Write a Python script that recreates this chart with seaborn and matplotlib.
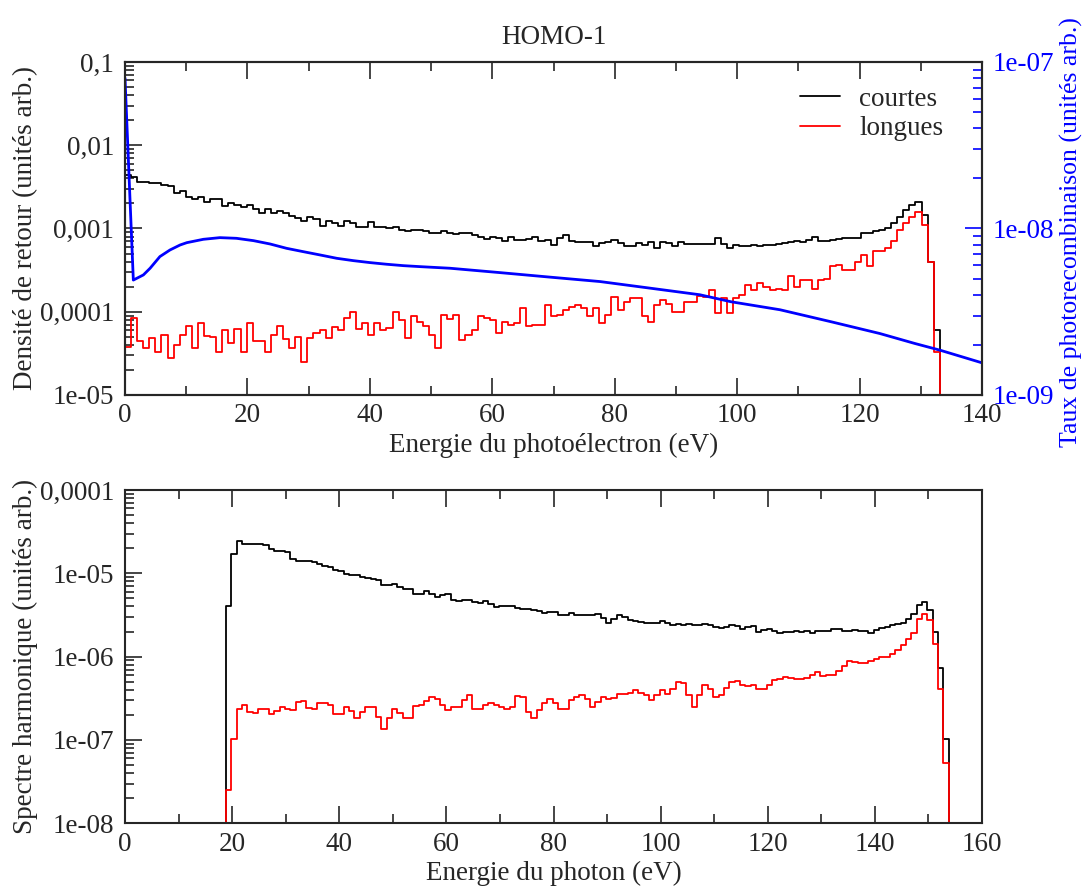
import numpy as np
import pandas as pd
import matplotlib
matplotlib.use("Agg")
import matplotlib.pyplot as plt
import seaborn as sns
from matplotlib.ticker import LogLocator, MultipleLocator, NullFormatter

# ---- haut : densite de retour (bins ~1 eV de 0 a 133.1 eV)
retour_debut, retour_fin = 0.0, 133.1
courtes_retour = [
    4.4e-3, 4.2e-3, 3.6e-3, 3.6e-3, 3.55e-3, 3.5e-3, 3.35e-3, 3.2e-3, 2.65e-3, 2.8e-3,
    2.4e-3, 2.25e-3, 2.4e-3, 2.1e-3, 2.25e-3, 2.25e-3, 1.87e-3, 2.0e-3, 1.9e-3, 1.83e-3,
    1.9e-3, 1.7e-3, 1.55e-3, 1.7e-3, 1.52e-3, 1.6e-3, 1.52e-3, 1.42e-3, 1.35e-3, 1.22e-3,
    1.37e-3, 1.3e-3, 1.07e-3, 1.22e-3, 1.16e-3, 1.07e-3, 1.22e-3, 1.16e-3, 1.05e-3, 1.05e-3,
    1.18e-3, 1.05e-3, 1.05e-3, 1.0e-3, 1.05e-3, 9.6e-4, 9.2e-4, 9.6e-4, 9.6e-4, 9.2e-4,
    8.8e-4, 8.9e-4, 9.2e-4, 8.8e-4, 8.6e-4, 8.8e-4, 8.9e-4, 8.4e-4, 8.0e-4, 7.5e-4,
    8.0e-4, 7.7e-4, 7.0e-4, 8.0e-4, 7.3e-4, 7.3e-4, 7.5e-4, 8.0e-4, 7.0e-4, 7.2e-4,
    6.35e-4, 7.7e-4, 8.4e-4, 7.0e-4, 6.8e-4, 6.8e-4, 6.8e-4, 6.1e-4, 6.65e-4, 6.8e-4,
    7.3e-4, 6.65e-4, 6.1e-4, 6.2e-4, 6.65e-4, 6.35e-4, 6.8e-4, 5.8e-4, 6.9e-4, 6.65e-4,
    6.1e-4, 6.8e-4, 6.55e-4, 6.55e-4, 6.55e-4, 6.6e-4, 6.6e-4, 7.6e-4, 6.6e-4, 5.8e-4,
    6.3e-4, 6.2e-4, 6.1e-4, 6.3e-4, 6.2e-4, 6.4e-4, 6.3e-4, 6.6e-4, 6.7e-4, 6.9e-4,
    7.0e-4, 6.9e-4, 7.2e-4, 8.0e-4, 7.0e-4, 7.1e-4, 7.3e-4, 7.4e-4, 7.6e-4, 7.7e-4,
    7.6e-4, 8.75e-4, 8.75e-4, 9.2e-4, 9.6e-4, 1.0e-3, 1.15e-3, 1.39e-3, 1.67e-3, 1.91e-3,
    2.1e-3, 1.45e-3, 4.0e-4, 6.0e-5,
]
longues_retour = [
    3.8e-5, 8.5e-5, 4.5e-5, 3.7e-5, 4.8e-5, 3.3e-5, 5.2e-5, 2.8e-5, 4.0e-5, 5.2e-5,
    6.7e-5, 3.7e-5, 7.3e-5, 5.1e-5, 5.0e-5, 3.3e-5, 6.1e-5, 4.2e-5, 6.2e-5, 3.3e-5,
    7.3e-5, 4.5e-5, 4.5e-5, 3.3e-5, 5.2e-5, 6.7e-5, 4.7e-5, 3.7e-5, 5.0e-5, 2.5e-5,
    4.9e-5, 5.5e-5, 6.1e-5, 4.8e-5, 6.5e-5, 6.1e-5, 8.4e-5, 1.0e-4, 6.2e-5, 7.3e-5,
    5.2e-5, 7.3e-5, 6.1e-5, 6.4e-5, 1.0e-4, 8.0e-5, 4.8e-5, 8.8e-5, 7.6e-5, 6.7e-5,
    5.2e-5, 3.7e-5, 9.2e-5, 8.1e-5, 9.2e-5, 4.6e-5, 5.2e-5, 6.1e-5, 8.8e-5, 8.4e-5,
    8.0e-5, 5.6e-5, 7.6e-5, 7.0e-5, 7.3e-5, 1.1e-4, 6.7e-5, 7.0e-5, 7.0e-5, 1.2e-4,
    8.8e-5, 9.2e-5, 1.05e-4, 1.15e-4, 1.2e-4, 1.1e-4, 8.8e-5, 1.1e-4, 7.3e-5, 9.2e-5,
    1.5e-4, 1.05e-4, 1.3e-4, 1.45e-4, 1.45e-4, 8.8e-5, 7.6e-5, 1.2e-4, 1.4e-4, 1.25e-4,
    1.0e-4, 1.0e-4, 1.3e-4, 1.3e-4, 1.55e-4, 1.5e-4, 1.8e-4, 9.6e-5, 1.45e-4, 9.6e-5,
    1.46e-4, 1.6e-4, 2.1e-4, 1.83e-4, 2.2e-4, 2.0e-4, 1.83e-4, 1.9e-4, 1.83e-4, 2.65e-4,
    2.0e-4, 2.4e-4, 2.4e-4, 1.9e-4, 2.4e-4, 2.5e-4, 3.5e-4, 3.6e-4, 3.2e-4, 3.2e-4,
    4.0e-4, 4.8e-4, 3.5e-4, 5.3e-4, 5.3e-4, 5.8e-4, 7.0e-4, 9.6e-4, 1.15e-3, 1.39e-3,
    1.59e-3, 1.1e-3, 4.0e-4, 3.3e-5,
]

# taux de photorecombinaison (axe de droite)
taux_energie = [0, 1.36, 3.0, 4.1, 5.7, 7.35, 9.0, 10.1, 12.8, 15.5, 18.2, 21.0, 23.7,
                26.4, 29.1, 31.9, 34.6, 37.3, 40.0, 42.7, 45.5, 48.2, 53.1, 61.3, 69.5,
                77.6, 85.8, 93.9, 99.0, 107.0, 115.4, 123.3, 129.0, 133.1, 140.0]
taux_valeur = [8.0e-8, 4.9e-9, 5.26e-9, 5.77e-9, 6.78e-9, 7.43e-9, 7.96e-9, 8.22e-9,
               8.61e-9, 8.81e-9, 8.73e-9, 8.45e-9, 8.07e-9, 7.6e-9, 7.26e-9, 6.93e-9,
               6.62e-9, 6.41e-9, 6.24e-9, 6.1e-9, 5.98e-9, 5.9e-9, 5.77e-9, 5.43e-9,
               5.1e-9, 4.8e-9, 4.38e-9, 4.0e-9, 3.63e-9, 3.25e-9, 2.75e-9, 2.34e-9,
               2.04e-9, 1.86e-9, 1.56e-9]

# ---- bas : spectre harmonique (bins ~1 eV de 18.85 a 153.8 eV)
spectre_debut, spectre_fin = 18.85, 153.8
courtes_spectre = [
    4.01e-6, 1.71e-5, 2.47e-5, 2.26e-5, 2.26e-5, 2.26e-5, 2.26e-5, 2.21e-5, 1.97e-5, 1.83e-5,
    1.83e-5, 1.79e-5, 1.49e-5, 1.39e-5, 1.39e-5, 1.39e-5, 1.36e-5, 1.28e-5, 1.22e-5, 1.19e-5,
    1.11e-5, 1.08e-5, 9.86e-6, 9.42e-6, 9.42e-6, 8.99e-6, 8.75e-6, 8.44e-6, 8.21e-6, 7.28e-6,
    7.28e-6, 7.48e-6, 6.83e-6, 6.52e-6, 6.40e-6, 5.68e-6,
    5.68e-6, 6.06e-6, 5.68e-6, 5.18e-6, 5.43e-6, 5.68e-6, 4.73e-6, 4.60e-6, 4.73e-6, 4.73e-6,
    4.52e-6, 4.43e-6, 4.60e-6, 4.31e-6, 3.93e-6, 4.01e-6, 4.01e-6, 4.01e-6, 3.83e-6, 3.76e-6,
    3.69e-6, 3.59e-6, 3.49e-6, 3.37e-6, 3.43e-6, 3.43e-6, 3.13e-6, 3.18e-6, 3.33e-6, 3.18e-6,
    3.18e-6, 3.13e-6, 3.18e-6, 3.21e-6, 2.90e-6, 2.55e-6, 2.85e-6, 3.13e-6, 2.99e-6, 2.77e-6,
    2.65e-6, 2.60e-6, 2.55e-6, 2.53e-6, 2.55e-6, 2.65e-6, 2.53e-6, 2.42e-6, 2.44e-6,
    2.42e-6, 2.44e-6, 2.37e-6, 2.42e-6, 2.48e-6, 2.37e-6, 2.27e-6, 2.20e-6, 2.27e-6, 2.37e-6,
    2.33e-6, 2.16e-6, 2.27e-6, 2.31e-6, 1.97e-6, 2.07e-6, 2.12e-6, 2.01e-6, 1.94e-6, 1.97e-6,
    1.97e-6, 2.01e-6, 1.97e-6, 2.01e-6, 1.94e-6, 2.01e-6, 2.05e-6, 2.05e-6, 2.16e-6, 2.12e-6,
    2.01e-6, 2.05e-6, 2.07e-6, 2.01e-6, 2.01e-6, 1.94e-6, 2.07e-6, 2.20e-6, 2.27e-6, 2.37e-6,
    2.48e-6, 2.55e-6, 2.85e-6, 3.27e-6, 4.12e-6, 4.52e-6, 3.59e-6, 1.97e-6, 7.31e-7, 1.04e-7,
]
longues_spectre = [
    2.51e-8, 1.04e-7, 2.38e-7, 2.61e-7, 2.17e-7, 2.08e-7, 2.38e-7, 2.32e-7, 2.04e-7, 2.21e-7,
    2.47e-7, 2.38e-7, 2.28e-7, 2.84e-7, 2.92e-7, 2.43e-7, 2.34e-7, 2.76e-7, 2.76e-7, 2.66e-7,
    2.06e-7, 2.06e-7, 2.50e-7, 2.21e-7, 1.84e-7, 2.17e-7, 2.52e-7, 2.47e-7, 1.89e-7, 1.37e-7,
    1.81e-7, 2.38e-7, 2.13e-7, 1.84e-7, 1.84e-7, 2.57e-7,
    2.61e-7, 2.92e-7, 3.29e-7, 3.14e-7, 2.66e-7, 2.28e-7, 2.50e-7, 2.50e-7, 3.00e-7, 3.44e-7,
    2.38e-7, 2.32e-7, 2.66e-7, 2.81e-7, 2.61e-7, 2.50e-7, 2.34e-7, 2.50e-7, 3.38e-7, 3.29e-7,
    2.17e-7, 1.84e-7, 2.28e-7, 2.74e-7, 3.14e-7, 2.74e-7, 2.38e-7, 2.32e-7, 3.00e-7, 3.29e-7,
    3.44e-7, 3.14e-7, 2.50e-7, 2.86e-7, 3.29e-7, 3.14e-7, 3.20e-7, 3.60e-7, 3.60e-7, 3.70e-7,
    3.95e-7, 3.70e-7, 3.51e-7, 3.00e-7, 3.51e-7, 3.95e-7, 3.60e-7, 4.14e-7, 4.97e-7,
    4.88e-7, 3.44e-7, 2.50e-7, 3.51e-7, 4.62e-7, 4.06e-7, 3.29e-7, 3.51e-7, 4.21e-7, 4.97e-7,
    5.07e-7, 4.54e-7, 4.45e-7, 4.62e-7, 4.14e-7, 4.06e-7, 4.62e-7, 5.21e-7, 5.45e-7, 5.71e-7,
    5.55e-7, 5.45e-7, 5.45e-7, 5.55e-7, 5.98e-7, 6.55e-7, 5.87e-7, 5.98e-7, 6.09e-7, 6.67e-7,
    7.73e-7, 8.79e-7, 8.63e-7, 8.48e-7, 8.48e-7, 8.79e-7, 9.46e-7, 9.91e-7, 9.91e-7, 1.09e-6,
    1.19e-6, 1.37e-6, 1.61e-6, 1.94e-6, 2.85e-6, 3.27e-6, 2.72e-6, 1.43e-6, 4.14e-7, 5.23e-8,
]

# graduations
retour_ticks = [1e-5, 1e-4, 1e-3, 1e-2, 1e-1]
retour_labels = ["1e-05", "0,0001", "0,001", "0,01", "0,1"]
taux_ticks = [1e-9, 1e-8, 1e-7]
taux_labels = ["1e-09", "1e-08", "1e-07"]
spectre_ticks = [1e-8, 1e-7, 1e-6, 1e-5, 1e-4]
spectre_labels = ["1e-08", "1e-07", "1e-06", "1e-05", "0,0001"]

PLANCHER = 1e-14  # sous l'axe, pour tracer les bords verticaux de l'histogramme
TAILLE = 19.5


def escalier(debut, fin, valeurs):
    bords = np.linspace(debut, fin, len(valeurs) + 1)
    x = np.concatenate([[bords[0]], bords])
    y = np.concatenate([[PLANCHER], valeurs, [PLANCHER]])
    return pd.DataFrame({"E": x, "v": y})


sns.set_style("ticks")
plt.rcParams["font.family"] = ["Liberation Serif", "DejaVu Serif"]
plt.rcParams["font.size"] = TAILLE
plt.rcParams["axes.linewidth"] = 1.5

fig = plt.figure(figsize=(10.87, 8.88), dpi=100)
ax = fig.add_axes([0.1150, 0.5552, 0.7884, 0.3750])
axb = fig.add_axes([0.1150, 0.0729, 0.7884, 0.3753])

# ---------- panneau du haut
ax.set_yscale("log")
sns.lineplot(data=escalier(retour_debut, retour_fin, courtes_retour), x="E", y="v", ax=ax,
             color="black", lw=1.3, drawstyle="steps-post", estimator=None, sort=False,
             label="courtes")
sns.lineplot(data=escalier(retour_debut, retour_fin, longues_retour), x="E", y="v", ax=ax,
             color="red", lw=1.3, drawstyle="steps-post", estimator=None, sort=False,
             label="longues")
ax.set_xlim(0, 140)
ax.set_ylim(1e-5, 0.1)
ax.set_yticks(retour_ticks, labels=retour_labels)
ax.set_xlabel("Energie du photoélectron (eV)", labelpad=3)
ax.set_ylabel("Densité de retour (unités arb.)")
ax.yaxis.set_label_coords(-0.1015, 0.5)
ax.set_title("HOMO-1", fontsize=TAILLE, pad=13)

ax2 = ax.twinx()
ax2.set_yscale("log")
sns.lineplot(x=taux_energie, y=taux_valeur, ax=ax2, color="blue", lw=2.0,
             estimator=None, sort=False)
ax2.set_ylim(1e-9, 1e-7)
ax2.set_yticks(taux_ticks, labels=taux_labels)
ax2.yaxis.set_minor_locator(LogLocator(base=10, subs=np.arange(2, 10)))
ax2.yaxis.set_minor_formatter(NullFormatter())
ax2.tick_params(which="both", direction="in", colors="blue", width=1.2, pad=8,
                labelsize=TAILLE)
ax2.tick_params(which="major", length=12)
ax2.tick_params(which="minor", length=6.5)
ax2.set_ylabel("Taux de photorecombinaison (unités arb.)", color="blue", fontsize=18.5)
ax2.yaxis.set_label_coords(1.091, 0.49)
for s in ax2.spines.values():
    s.set_linewidth(1.5)

leg = ax.legend(loc="upper right", bbox_to_anchor=(0.955, 0.925), frameon=False,
                handlelength=1.5, handletextpad=0.7, labelspacing=0.15,
                borderpad=0, borderaxespad=0, fontsize=TAILLE)

# ---------- panneau du bas
axb.set_yscale("log")
sns.lineplot(data=escalier(spectre_debut, spectre_fin, courtes_spectre), x="E", y="v", ax=axb,
             color="black", lw=1.3, drawstyle="steps-post", estimator=None, sort=False)
sns.lineplot(data=escalier(spectre_debut, spectre_fin, longues_spectre), x="E", y="v", ax=axb,
             color="red", lw=1.3, drawstyle="steps-post", estimator=None, sort=False)
axb.set_xlim(0, 160)
axb.set_ylim(1e-8, 1e-4)
axb.set_yticks(spectre_ticks, labels=spectre_labels)
axb.set_xlabel("Energie du photon (eV)", labelpad=3)
axb.set_ylabel("Spectre harmonique (unités arb.)")
axb.yaxis.set_label_coords(-0.1015, 0.5)

for a in (ax, axb):
    a.xaxis.set_major_locator(MultipleLocator(20))
    a.xaxis.set_minor_locator(MultipleLocator(10))
    a.yaxis.set_minor_locator(LogLocator(base=10, subs=np.arange(2, 10)))
    a.yaxis.set_minor_formatter(NullFormatter())
    a.tick_params(which="both", direction="in", top=True, right=False, width=1.2,
                  labelsize=TAILLE)
    a.tick_params(which="major", length=12)
    a.tick_params(which="minor", length=6.5)
    a.tick_params(axis="y", pad=8)
    a.tick_params(axis="x", pad=6)
    for s in a.spines.values():
        s.set_visible(True)
        s.set_linewidth(1.5)

fig.savefig("out.png", dpi=100)
